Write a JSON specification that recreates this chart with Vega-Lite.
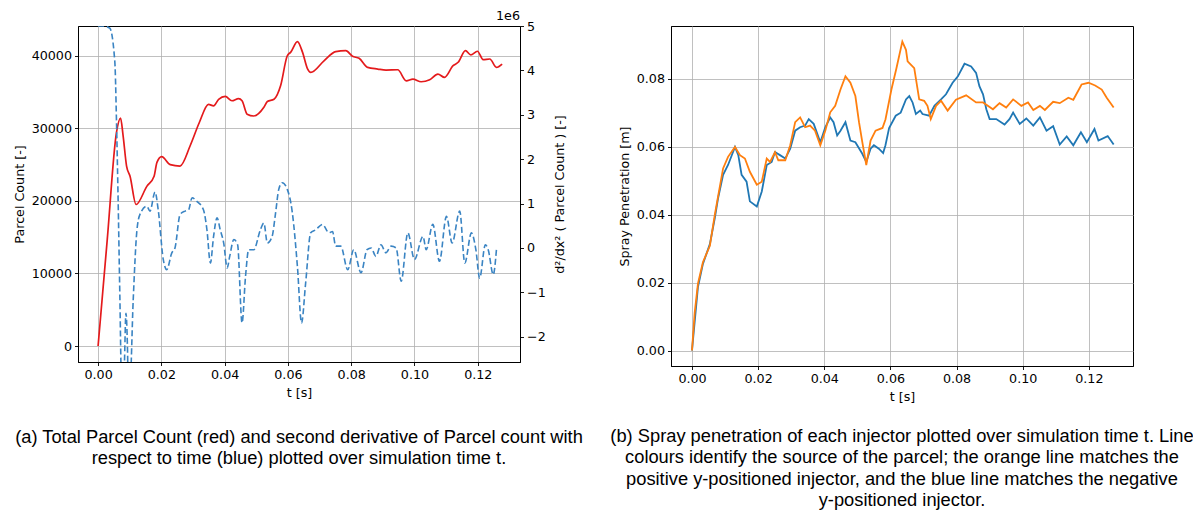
{
  "$schema": "https://vega.github.io/schema/vega-lite/v6.json",
  "background": "white",
  "padding": {"left": 12, "top": 9, "right": 5, "bottom": 5},
  "bounds": "flush",
  "spacing": 151,
  "config": {
    "view": {"stroke": "#000", "strokeWidth": 1},
    "axis": {
      "labelFont": "DejaVu Sans", "labelFontSize": 12.7, "labelColor": "#000",
      "titleFont": "DejaVu Sans", "titleFontSize": 12.7, "titleFontWeight": "normal", "titleColor": "#000",
      "tickColor": "#000", "tickSize": 3.5, "tickWidth": 0.9,
      "domainColor": "#000", "domainWidth": 1,
      "labelPadding": 3, "titlePadding": 5,
      "gridColor": "#b0b0b0", "gridWidth": 0.8, "grid": true,
      "labelFlush": false, "labelOverlap": false
    },
    "title": {"font": "Liberation Sans", "fontSize": 18.3, "fontWeight": "normal", "color": "#000", "lineHeight": 21.5, "orient": "bottom", "anchor": "middle", "offset": 26}
  },
  "hconcat": [
    {
      "width": 442,
      "height": 336,
      "title": {"text": ["(a) Total Parcel Count (red) and second derivative of Parcel count with", "respect to time (blue) plotted over simulation time t."], "offset": 30},
      "layer": [
        {
          "data": {"values": [
            {"t": 0, "count": 0}, {"t": 0.0029, "count": 14700}, {"t": 0.0058, "count": 29400}, {"t": 0.0071, "count": 31400}, {"t": 0.0079, "count": 29000},
            {"t": 0.0090, "count": 24800}, {"t": 0.0101, "count": 23400}, {"t": 0.0120, "count": 19500}, {"t": 0.0154, "count": 22000},
            {"t": 0.0177, "count": 23400}, {"t": 0.0186, "count": 25300}, {"t": 0.0201, "count": 26100}, {"t": 0.0228, "count": 25000},
            {"t": 0.0259, "count": 24800}, {"t": 0.0291, "count": 27600}, {"t": 0.0320, "count": 30800}, {"t": 0.0349, "count": 33300},
            {"t": 0.0365, "count": 33100}, {"t": 0.0381, "count": 34000}, {"t": 0.0402, "count": 34400}, {"t": 0.0423, "count": 33800},
            {"t": 0.0444, "count": 34100}, {"t": 0.0455, "count": 33800}, {"t": 0.0471, "count": 31950}, {"t": 0.0492, "count": 31700},
            {"t": 0.0524, "count": 32900}, {"t": 0.0535, "count": 33700}, {"t": 0.0556, "count": 34000}, {"t": 0.0577, "count": 35900},
            {"t": 0.0598, "count": 40000}, {"t": 0.0609, "count": 40500}, {"t": 0.0630, "count": 41950}, {"t": 0.0646, "count": 40500},
            {"t": 0.0662, "count": 38200}, {"t": 0.0672, "count": 37700}, {"t": 0.0714, "count": 39300}, {"t": 0.0751, "count": 40570},
            {"t": 0.0783, "count": 40700}, {"t": 0.0804, "count": 39930}, {"t": 0.0825, "count": 39650}, {"t": 0.0852, "count": 38400},
            {"t": 0.0884, "count": 38170}, {"t": 0.0910, "count": 38030}, {"t": 0.0947, "count": 38070}, {"t": 0.0974, "count": 36550},
            {"t": 0.0995, "count": 36790}, {"t": 0.1021, "count": 36420}, {"t": 0.1048, "count": 36690}, {"t": 0.1074, "count": 37480},
            {"t": 0.1095, "count": 37020}, {"t": 0.1122, "count": 38630}, {"t": 0.1138, "count": 39100}, {"t": 0.1161, "count": 40700},
            {"t": 0.1178, "count": 40110}, {"t": 0.1199, "count": 40620}, {"t": 0.1217, "count": 39460}, {"t": 0.1238, "count": 39550},
            {"t": 0.1259, "count": 38400}, {"t": 0.1277, "count": 38860}
          ]},
          "mark": {"type": "line", "color": "#e41a1c", "strokeWidth": 1.7, "interpolate": "monotone"},
          "encoding": {
            "x": {"field": "t", "type": "quantitative", "scale": {"domain": [-0.00635, 0.13335], "nice": false, "zero": false},
                  "axis": {"title": "t [s]", "values": [0, 0.02, 0.04, 0.06, 0.08, 0.1, 0.12], "format": ".2f"}},
            "y": {"field": "count", "type": "quantitative", "scale": {"domain": [-2200, 44100], "nice": false, "zero": false},
                  "axis": {"title": "Parcel Count [-]", "values": [0, 10000, 20000, 30000, 40000], "format": "d"}}
          }
        },
        {
          "data": {"values": [
            {"t": 0, "d2": 5.0}, {"t": 0.0018, "d2": 5.0}, {"t": 0.0037, "d2": 4.95}, {"t": 0.0053, "d2": 4.18},
            {"t": 0.0058, "d2": 2.9}, {"t": 0.0063, "d2": 1.2}, {"t": 0.0069, "d2": -1.17}, {"t": 0.0074, "d2": -3.0},
            {"t": 0.0082, "d2": -2.8}, {"t": 0.0088, "d2": -1.47}, {"t": 0.0093, "d2": -2.3}, {"t": 0.0095, "d2": -3.0},
            {"t": 0.0101, "d2": -3.0}, {"t": 0.0111, "d2": -1.17}, {"t": 0.0122, "d2": 0.34}, {"t": 0.0132, "d2": 0.75},
            {"t": 0.0154, "d2": 0.94}, {"t": 0.0164, "d2": 0.83}, {"t": 0.0180, "d2": 1.26}, {"t": 0.0190, "d2": 0.86},
            {"t": 0.0206, "d2": -0.26}, {"t": 0.0217, "d2": -0.49}, {"t": 0.0233, "d2": -0.11}, {"t": 0.0243, "d2": 0.0},
            {"t": 0.0259, "d2": 0.75}, {"t": 0.0275, "d2": 0.83}, {"t": 0.0286, "d2": 0.86}, {"t": 0.0297, "d2": 1.13},
            {"t": 0.0312, "d2": 1.05}, {"t": 0.0333, "d2": 0.86}, {"t": 0.0344, "d2": 0.41}, {"t": 0.0355, "d2": -0.34},
            {"t": 0.0365, "d2": 0.26}, {"t": 0.0376, "d2": 0.68}, {"t": 0.0386, "d2": 0.41}, {"t": 0.0397, "d2": 0.11},
            {"t": 0.0408, "d2": -0.45}, {"t": 0.0416, "d2": -0.19}, {"t": 0.0429, "d2": 0.19}, {"t": 0.0441, "d2": 0.07},
            {"t": 0.0455, "d2": -1.69}, {"t": 0.0466, "d2": -0.64}, {"t": 0.0476, "d2": -0.04}, {"t": 0.0492, "d2": -0.04},
            {"t": 0.0513, "d2": 0.41}, {"t": 0.0524, "d2": 0.56}, {"t": 0.0535, "d2": 0.11}, {"t": 0.0550, "d2": 0.26},
            {"t": 0.0561, "d2": 0.79}, {"t": 0.0571, "d2": 1.32}, {"t": 0.0582, "d2": 1.47}, {"t": 0.0598, "d2": 1.32},
            {"t": 0.0614, "d2": 0.79}, {"t": 0.0630, "d2": -0.42}, {"t": 0.0643, "d2": -1.69}, {"t": 0.0656, "d2": -0.79},
            {"t": 0.0672, "d2": 0.34}, {"t": 0.0688, "d2": 0.41}, {"t": 0.0709, "d2": 0.53}, {"t": 0.0730, "d2": 0.34},
            {"t": 0.0741, "d2": 0.37}, {"t": 0.0751, "d2": 0.04}, {"t": 0.0767, "d2": 0.04}, {"t": 0.0789, "d2": -0.49},
            {"t": 0.0808, "d2": -0.04}, {"t": 0.0831, "d2": -0.56}, {"t": 0.0850, "d2": -0.04}, {"t": 0.0863, "d2": 0.0},
            {"t": 0.0878, "d2": -0.19}, {"t": 0.0894, "d2": 0.07}, {"t": 0.0910, "d2": -0.11}, {"t": 0.0926, "d2": 0.04},
            {"t": 0.0942, "d2": 0.0}, {"t": 0.0958, "d2": -0.75}, {"t": 0.0979, "d2": 0.34}, {"t": 0.1000, "d2": -0.26},
            {"t": 0.1027, "d2": 0.26}, {"t": 0.1037, "d2": -0.04}, {"t": 0.1058, "d2": 0.53}, {"t": 0.1079, "d2": -0.30},
            {"t": 0.1101, "d2": 0.71}, {"t": 0.1119, "d2": 0.11}, {"t": 0.1143, "d2": 0.83}, {"t": 0.1159, "d2": -0.34},
            {"t": 0.1180, "d2": 0.34}, {"t": 0.1194, "d2": -0.04}, {"t": 0.1206, "d2": -0.68}, {"t": 0.1224, "d2": 0.07},
            {"t": 0.1233, "d2": -0.04}, {"t": 0.1249, "d2": -0.60}, {"t": 0.1259, "d2": -0.04}
          ]},
          "mark": {"type": "line", "color": "#3a84c3", "strokeWidth": 1.6, "strokeDash": [6, 3], "clip": true, "interpolate": "monotone"},
          "encoding": {
            "x": {"field": "t", "type": "quantitative"},
            "y": {"field": "d2", "type": "quantitative", "scale": {"domain": [-2.57, 5.0], "nice": false, "zero": false},
                  "axis": {"orient": "right", "grid": false, "title": "d²/dx² ( Parcel Count ) [-]", "titlePadding": 8, "values": [-2, -1, 0, 1, 2, 3, 4, 5], "format": "d", "titleAngle": 270, "titleBaseline": "top"}}
          }
        },
        {
          "data": {"values": [{"t": 0.13335, "v": 5.0, "label": "1e6"}]},
          "mark": {"type": "text", "align": "right", "baseline": "bottom", "dy": -3, "font": "DejaVu Sans", "fontSize": 12.7, "color": "#000"},
          "encoding": {
            "x": {"field": "t", "type": "quantitative"},
            "y": {"field": "v", "type": "quantitative", "scale": {"domain": [-2.57, 5.0], "nice": false, "zero": false}, "axis": null},
            "text": {"field": "label"}
          }
        }
      ],
      "resolve": {"scale": {"y": "independent"}, "axis": {"y": "independent"}}
    },
    {
      "width": 462,
      "height": 340,
      "title": {"text": ["(b) Spray penetration of each injector plotted over simulation time t. Line", "colours identify the source of the parcel; the orange line matches the", "positive y-positioned injector, and the blue line matches the negative", "y-positioned injector."], "offset": 25},
      "layer": [
        {
          "data": {"values": [
            {"t": 0, "pen": 0}, {"t": 0.0018, "pen": 0.0187}, {"t": 0.0033, "pen": 0.0255}, {"t": 0.0054, "pen": 0.0313},
            {"t": 0.0069, "pen": 0.039}, {"t": 0.0079, "pen": 0.0449}, {"t": 0.0094, "pen": 0.0517}, {"t": 0.0109, "pen": 0.0546},
            {"t": 0.0130, "pen": 0.0599}, {"t": 0.0140, "pen": 0.0575}, {"t": 0.0150, "pen": 0.0517}, {"t": 0.0165, "pen": 0.0497},
            {"t": 0.0175, "pen": 0.0439}, {"t": 0.0196, "pen": 0.0424}, {"t": 0.0211, "pen": 0.0468}, {"t": 0.0226, "pen": 0.0546},
            {"t": 0.0241, "pen": 0.0555}, {"t": 0.0251, "pen": 0.0584}, {"t": 0.0266, "pen": 0.0575}, {"t": 0.0282, "pen": 0.0565},
            {"t": 0.0297, "pen": 0.0594}, {"t": 0.0312, "pen": 0.0647}, {"t": 0.0327, "pen": 0.0657}, {"t": 0.0342, "pen": 0.0662},
            {"t": 0.0353, "pen": 0.0681}, {"t": 0.0368, "pen": 0.0667}, {"t": 0.0388, "pen": 0.0613}, {"t": 0.0403, "pen": 0.0657},
            {"t": 0.0418, "pen": 0.0686}, {"t": 0.0428, "pen": 0.0672}, {"t": 0.0439, "pen": 0.0633}, {"t": 0.0449, "pen": 0.0647},
            {"t": 0.0464, "pen": 0.0672}, {"t": 0.0479, "pen": 0.0618}, {"t": 0.0494, "pen": 0.0613}, {"t": 0.0515, "pen": 0.0579},
            {"t": 0.0527, "pen": 0.0555}, {"t": 0.0540, "pen": 0.0594}, {"t": 0.0550, "pen": 0.0604}, {"t": 0.0565, "pen": 0.0594},
            {"t": 0.0578, "pen": 0.0581}, {"t": 0.0585, "pen": 0.0604}, {"t": 0.0596, "pen": 0.0655}, {"t": 0.0616, "pen": 0.0691},
            {"t": 0.0631, "pen": 0.0700}, {"t": 0.0647, "pen": 0.0739}, {"t": 0.0657, "pen": 0.0749}, {"t": 0.0667, "pen": 0.0730},
            {"t": 0.0677, "pen": 0.0696}, {"t": 0.0690, "pen": 0.0706}, {"t": 0.0697, "pen": 0.0696}, {"t": 0.0717, "pen": 0.0691},
            {"t": 0.0733, "pen": 0.0720}, {"t": 0.0753, "pen": 0.0739}, {"t": 0.0768, "pen": 0.0754}, {"t": 0.0788, "pen": 0.0788},
            {"t": 0.0804, "pen": 0.0807}, {"t": 0.0824, "pen": 0.0844}, {"t": 0.0844, "pen": 0.0836}, {"t": 0.0859, "pen": 0.0817},
            {"t": 0.0869, "pen": 0.0778}, {"t": 0.0880, "pen": 0.0754}, {"t": 0.0890, "pen": 0.0710}, {"t": 0.0900, "pen": 0.0681},
            {"t": 0.0920, "pen": 0.0681}, {"t": 0.0945, "pen": 0.0665}, {"t": 0.0960, "pen": 0.0681}, {"t": 0.0971, "pen": 0.0700},
            {"t": 0.0991, "pen": 0.0667}, {"t": 0.1011, "pen": 0.0683}, {"t": 0.1032, "pen": 0.0662}, {"t": 0.1052, "pen": 0.0686},
            {"t": 0.1072, "pen": 0.0647}, {"t": 0.1092, "pen": 0.0660}, {"t": 0.1112, "pen": 0.0606}, {"t": 0.1133, "pen": 0.0630},
            {"t": 0.1153, "pen": 0.0604}, {"t": 0.1176, "pen": 0.0642}, {"t": 0.1194, "pen": 0.0613}, {"t": 0.1217, "pen": 0.0652},
            {"t": 0.1229, "pen": 0.0618}, {"t": 0.1257, "pen": 0.0631}, {"t": 0.1275, "pen": 0.0606}
          ]},
          "mark": {"type": "line", "color": "#1f77b4", "strokeWidth": 1.8},
          "encoding": {
            "x": {"field": "t", "type": "quantitative", "scale": {"domain": [-0.00635, 0.13335], "nice": false, "zero": false},
                  "axis": {"title": "t [s]", "values": [0, 0.02, 0.04, 0.06, 0.08, 0.1, 0.12], "format": ".2f"}},
            "y": {"field": "pen", "type": "quantitative", "scale": {"domain": [-0.00455, 0.0955], "nice": false, "zero": false},
                  "axis": {"title": "Spray Penetration [m]", "values": [0, 0.02, 0.04, 0.06, 0.08], "format": ".2f"}}
          }
        },
        {
          "data": {"values": [
            {"t": 0, "pen": 0}, {"t": 0.0008, "pen": 0.011}, {"t": 0.0018, "pen": 0.0197}, {"t": 0.0033, "pen": 0.026},
            {"t": 0.0054, "pen": 0.0308}, {"t": 0.0069, "pen": 0.040}, {"t": 0.0094, "pen": 0.0536}, {"t": 0.0109, "pen": 0.057},
            {"t": 0.0130, "pen": 0.0599}, {"t": 0.0145, "pen": 0.0575}, {"t": 0.0160, "pen": 0.0565}, {"t": 0.0175, "pen": 0.0526},
            {"t": 0.0196, "pen": 0.0488}, {"t": 0.0211, "pen": 0.0497}, {"t": 0.0226, "pen": 0.0565}, {"t": 0.0236, "pen": 0.0555},
            {"t": 0.0251, "pen": 0.0584}, {"t": 0.0261, "pen": 0.056}, {"t": 0.0282, "pen": 0.056}, {"t": 0.0297, "pen": 0.0604},
            {"t": 0.0312, "pen": 0.0672}, {"t": 0.0327, "pen": 0.0686}, {"t": 0.0342, "pen": 0.0657}, {"t": 0.0357, "pen": 0.0662},
            {"t": 0.0372, "pen": 0.0647}, {"t": 0.0388, "pen": 0.0604}, {"t": 0.0403, "pen": 0.0647}, {"t": 0.0418, "pen": 0.0701},
            {"t": 0.0433, "pen": 0.072}, {"t": 0.0449, "pen": 0.0768}, {"t": 0.0464, "pen": 0.0807}, {"t": 0.0479, "pen": 0.0788},
            {"t": 0.0494, "pen": 0.0749}, {"t": 0.0505, "pen": 0.0672}, {"t": 0.0515, "pen": 0.0613}, {"t": 0.0527, "pen": 0.0546},
            {"t": 0.0540, "pen": 0.0618}, {"t": 0.0555, "pen": 0.0647}, {"t": 0.0576, "pen": 0.0655}, {"t": 0.0585, "pen": 0.068},
            {"t": 0.0603, "pen": 0.0768}, {"t": 0.0618, "pen": 0.083}, {"t": 0.0636, "pen": 0.0909}, {"t": 0.0647, "pen": 0.0885},
            {"t": 0.0652, "pen": 0.0851}, {"t": 0.0672, "pen": 0.0831}, {"t": 0.0687, "pen": 0.0739}, {"t": 0.0702, "pen": 0.0735},
            {"t": 0.0712, "pen": 0.072}, {"t": 0.0722, "pen": 0.0681}, {"t": 0.0738, "pen": 0.072}, {"t": 0.0753, "pen": 0.0735},
            {"t": 0.0773, "pen": 0.0706}, {"t": 0.0798, "pen": 0.0738}, {"t": 0.0829, "pen": 0.0751}, {"t": 0.0859, "pen": 0.073},
            {"t": 0.0880, "pen": 0.073}, {"t": 0.0910, "pen": 0.071}, {"t": 0.0930, "pen": 0.0728}, {"t": 0.0950, "pen": 0.0715},
            {"t": 0.0971, "pen": 0.0739}, {"t": 0.0996, "pen": 0.072}, {"t": 0.1016, "pen": 0.073}, {"t": 0.1032, "pen": 0.0708},
            {"t": 0.1052, "pen": 0.072}, {"t": 0.1067, "pen": 0.0708}, {"t": 0.1092, "pen": 0.0732}, {"t": 0.1112, "pen": 0.0728},
            {"t": 0.1138, "pen": 0.0744}, {"t": 0.1153, "pen": 0.0738}, {"t": 0.1178, "pen": 0.0783}, {"t": 0.1199, "pen": 0.0788},
            {"t": 0.1219, "pen": 0.078}, {"t": 0.1239, "pen": 0.0768}, {"t": 0.1254, "pen": 0.0744}, {"t": 0.1275, "pen": 0.0715}
          ]},
          "mark": {"type": "line", "color": "#ff7f0e", "strokeWidth": 1.8},
          "encoding": {
            "x": {"field": "t", "type": "quantitative"},
            "y": {"field": "pen", "type": "quantitative"}
          }
        }
      ]
    }
  ]
}
